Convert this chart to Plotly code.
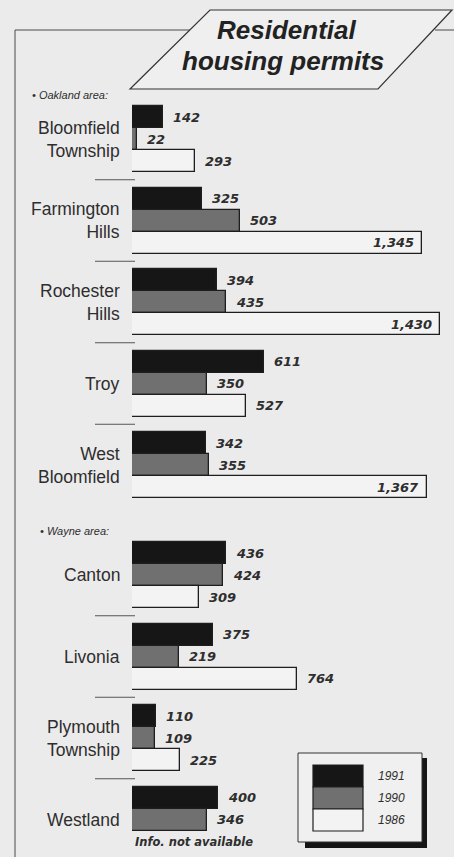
import plotly.graph_objects as go

# ---- data -------------------------------------------------------------
places = ["Bloomfield<br>Township", "Farmington<br>Hills", "Rochester<br>Hills",
          "Troy", "West<br>Bloomfield",
          "Canton", "Livonia", "Plymouth<br>Township", "Westland"]
areas = ["Oakland", "Oakland", "Oakland", "Oakland", "Oakland",
         "Wayne", "Wayne", "Wayne", "Wayne"]
area_labels = {"Oakland": "• Oakland area:", "Wayne": "• Wayne area:"}
years = ["1991", "1990", "1986"]
permits_1991 = [142, 325, 394, 611, 342, 436, 375, 110, 400]
permits_1990 = [22, 503, 435, 350, 355, 424, 219, 109, 346]
permits_1986 = [293, 1345, 1430, 527, 1367, 309, 764, 225, None]
missing_note = "Info. not available"

# ---- styling / layout -------------------------------------------------
W, H = 454, 857
BG = "#ebebeb"
INK = "#2e2e2e"
colors = ["#161616", "#707070", "#f3f3f3"]
BAR = 22            # bar thickness (px)
TOP = 106           # top of first group (px)
PITCH = 81.5        # distance between groups (px)
AREA_GAP = 28.5     # extra room before the Wayne block (px)
X0 = 132            # px where bars start
SCALE = 0.2155      # px per permit
SANS = "Liberation Sans, Arial, Helvetica, sans-serif"
NUMF = "DejaVu Sans, sans-serif"


def px(x):
    return x / W


group_top = []
for i, a in enumerate(areas):
    group_top.append(TOP + i * PITCH + (AREA_GAP if a == "Wayne" else 0))

series = [permits_1991, permits_1990, permits_1986]

fig = go.Figure()
for k, (yr, vals, col) in enumerate(zip(years, series, colors)):
    fig.add_trace(go.Bar(
        name=yr, orientation="h",
        x=vals,
        y=[gt + BAR * k + BAR / 2 for gt in group_top],
        width=BAR,
        marker=dict(color=col, line=dict(color="#1e1e1e", width=1.3)),
        showlegend=False, hoverinfo="x+name",
    ))

annotations = []
shapes = []

# value labels
for k, vals in enumerate(series):
    for gt, v in zip(group_top, vals):
        yc = gt + BAR * k + BAR / 2
        if v is None:
            annotations.append(dict(
                x=0, y=yc, xref="x", yref="y", text=missing_note,
                xanchor="left", yanchor="middle", xshift=1, showarrow=False,
                font=dict(family=NUMF, size=11.5, color=INK, weight="bold", style="italic")))
            continue
        inside = v > 1000
        annotations.append(dict(
            x=v, y=yc, xref="x", yref="y", text=f"{v:,}",
            xanchor="right" if inside else "left", yanchor="middle",
            xshift=-6 if inside else 8, showarrow=False,
            font=dict(family=NUMF, size=13, color=INK, weight="bold", style="italic")))

# place names
for gt, name in zip(group_top, places):
    annotations.append(dict(
        x=px(122), y=gt + 1.5 * BAR, xref="paper", yref="y", text=name,
        xanchor="right", yanchor="middle", align="right", showarrow=False,
        font=dict(family=SANS, size=17.5, color=INK)))

# separators between neighbouring places of the same area
for i in range(len(group_top) - 1):
    if areas[i] == areas[i + 1]:
        ys = (group_top[i] + 3 * BAR + group_top[i + 1]) / 2
        shapes.append(dict(type="line", xref="paper", yref="y",
                           x0=px(95), x1=px(135), y0=ys, y1=ys,
                           line=dict(color="#555555", width=1)))

# area headings
seen = set()
for i, a in enumerate(areas):
    if a not in seen:
        seen.add(a)
        annotations.append(dict(
            x=px(30 if a == "Oakland" else 38), y=group_top[i] - 11,
            xref="paper", yref="y", text=area_labels[a],
            xanchor="left", yanchor="middle", showarrow=False,
            font=dict(family=SANS, size=11, color=INK, style="italic")))

# frame and title panel
frame = dict(color="#4a4a4a", width=1)
shapes += [
    dict(type="line", xref="paper", yref="y", x0=px(15), x1=px(15), y0=30, y1=H, line=frame),
    dict(type="line", xref="paper", yref="y", x0=px(15), x1=px(190), y0=30, y1=30, line=frame),
    dict(type="line", xref="paper", yref="y", x0=px(435), x1=px(W), y0=30, y1=30, line=frame),
    dict(type="path", xref="paper", yref="y",
         path=f"M {px(130)},89 L {px(210)},10 L {px(452)},10 L {px(378)},89 Z",
         fillcolor="#efefef", line=dict(color="#333333", width=1.2)),
]
title_font = dict(family=SANS, size=26, color="#222222", weight="bold", style="italic")
annotations += [
    dict(x=px(286), y=30, xref="paper", yref="y", text="Residential",
         xanchor="center", yanchor="middle", showarrow=False, font=title_font),
    dict(x=px(283), y=61, xref="paper", yref="y", text="housing permits",
         xanchor="center", yanchor="middle", showarrow=False, font=title_font),
]

# legend box with drop shadow
shapes += [
    dict(type="rect", xref="paper", yref="y", x0=px(305), x1=px(427), y0=758, y1=848,
         fillcolor="#151515", line=dict(width=0)),
    dict(type="rect", xref="paper", yref="y", x0=px(298), x1=px(422), y0=753, y1=842,
         fillcolor="#f0f0f0", line=dict(color="#333333", width=1)),
]
for k, (yr, col) in enumerate(zip(years, colors)):
    y0 = 765 + BAR * k
    shapes.append(dict(type="rect", xref="paper", yref="y", x0=px(313), x1=px(363),
                       y0=y0, y1=y0 + BAR, fillcolor=col,
                       line=dict(color="#1e1e1e", width=1.2)))
    annotations.append(dict(
        x=px(376), y=y0 + BAR / 2, xref="paper", yref="y", text=yr,
        xanchor="left", yanchor="middle", showarrow=False,
        font=dict(family=SANS, size=12, color=INK, style="italic")))

fig.update_layout(
    width=W, height=H, margin=dict(l=0, r=0, t=0, b=0, pad=0),
    paper_bgcolor=BG, plot_bgcolor="rgba(0,0,0,0)",
    barmode="overlay", bargap=0,
    xaxis=dict(domain=[X0 / W, 1], range=[0, (W - X0) / SCALE], visible=False,
               fixedrange=True),
    yaxis=dict(domain=[0, 1], range=[H, 0], visible=False, fixedrange=True),
    shapes=shapes, annotations=annotations,
)

fig.write_html("out.html")
